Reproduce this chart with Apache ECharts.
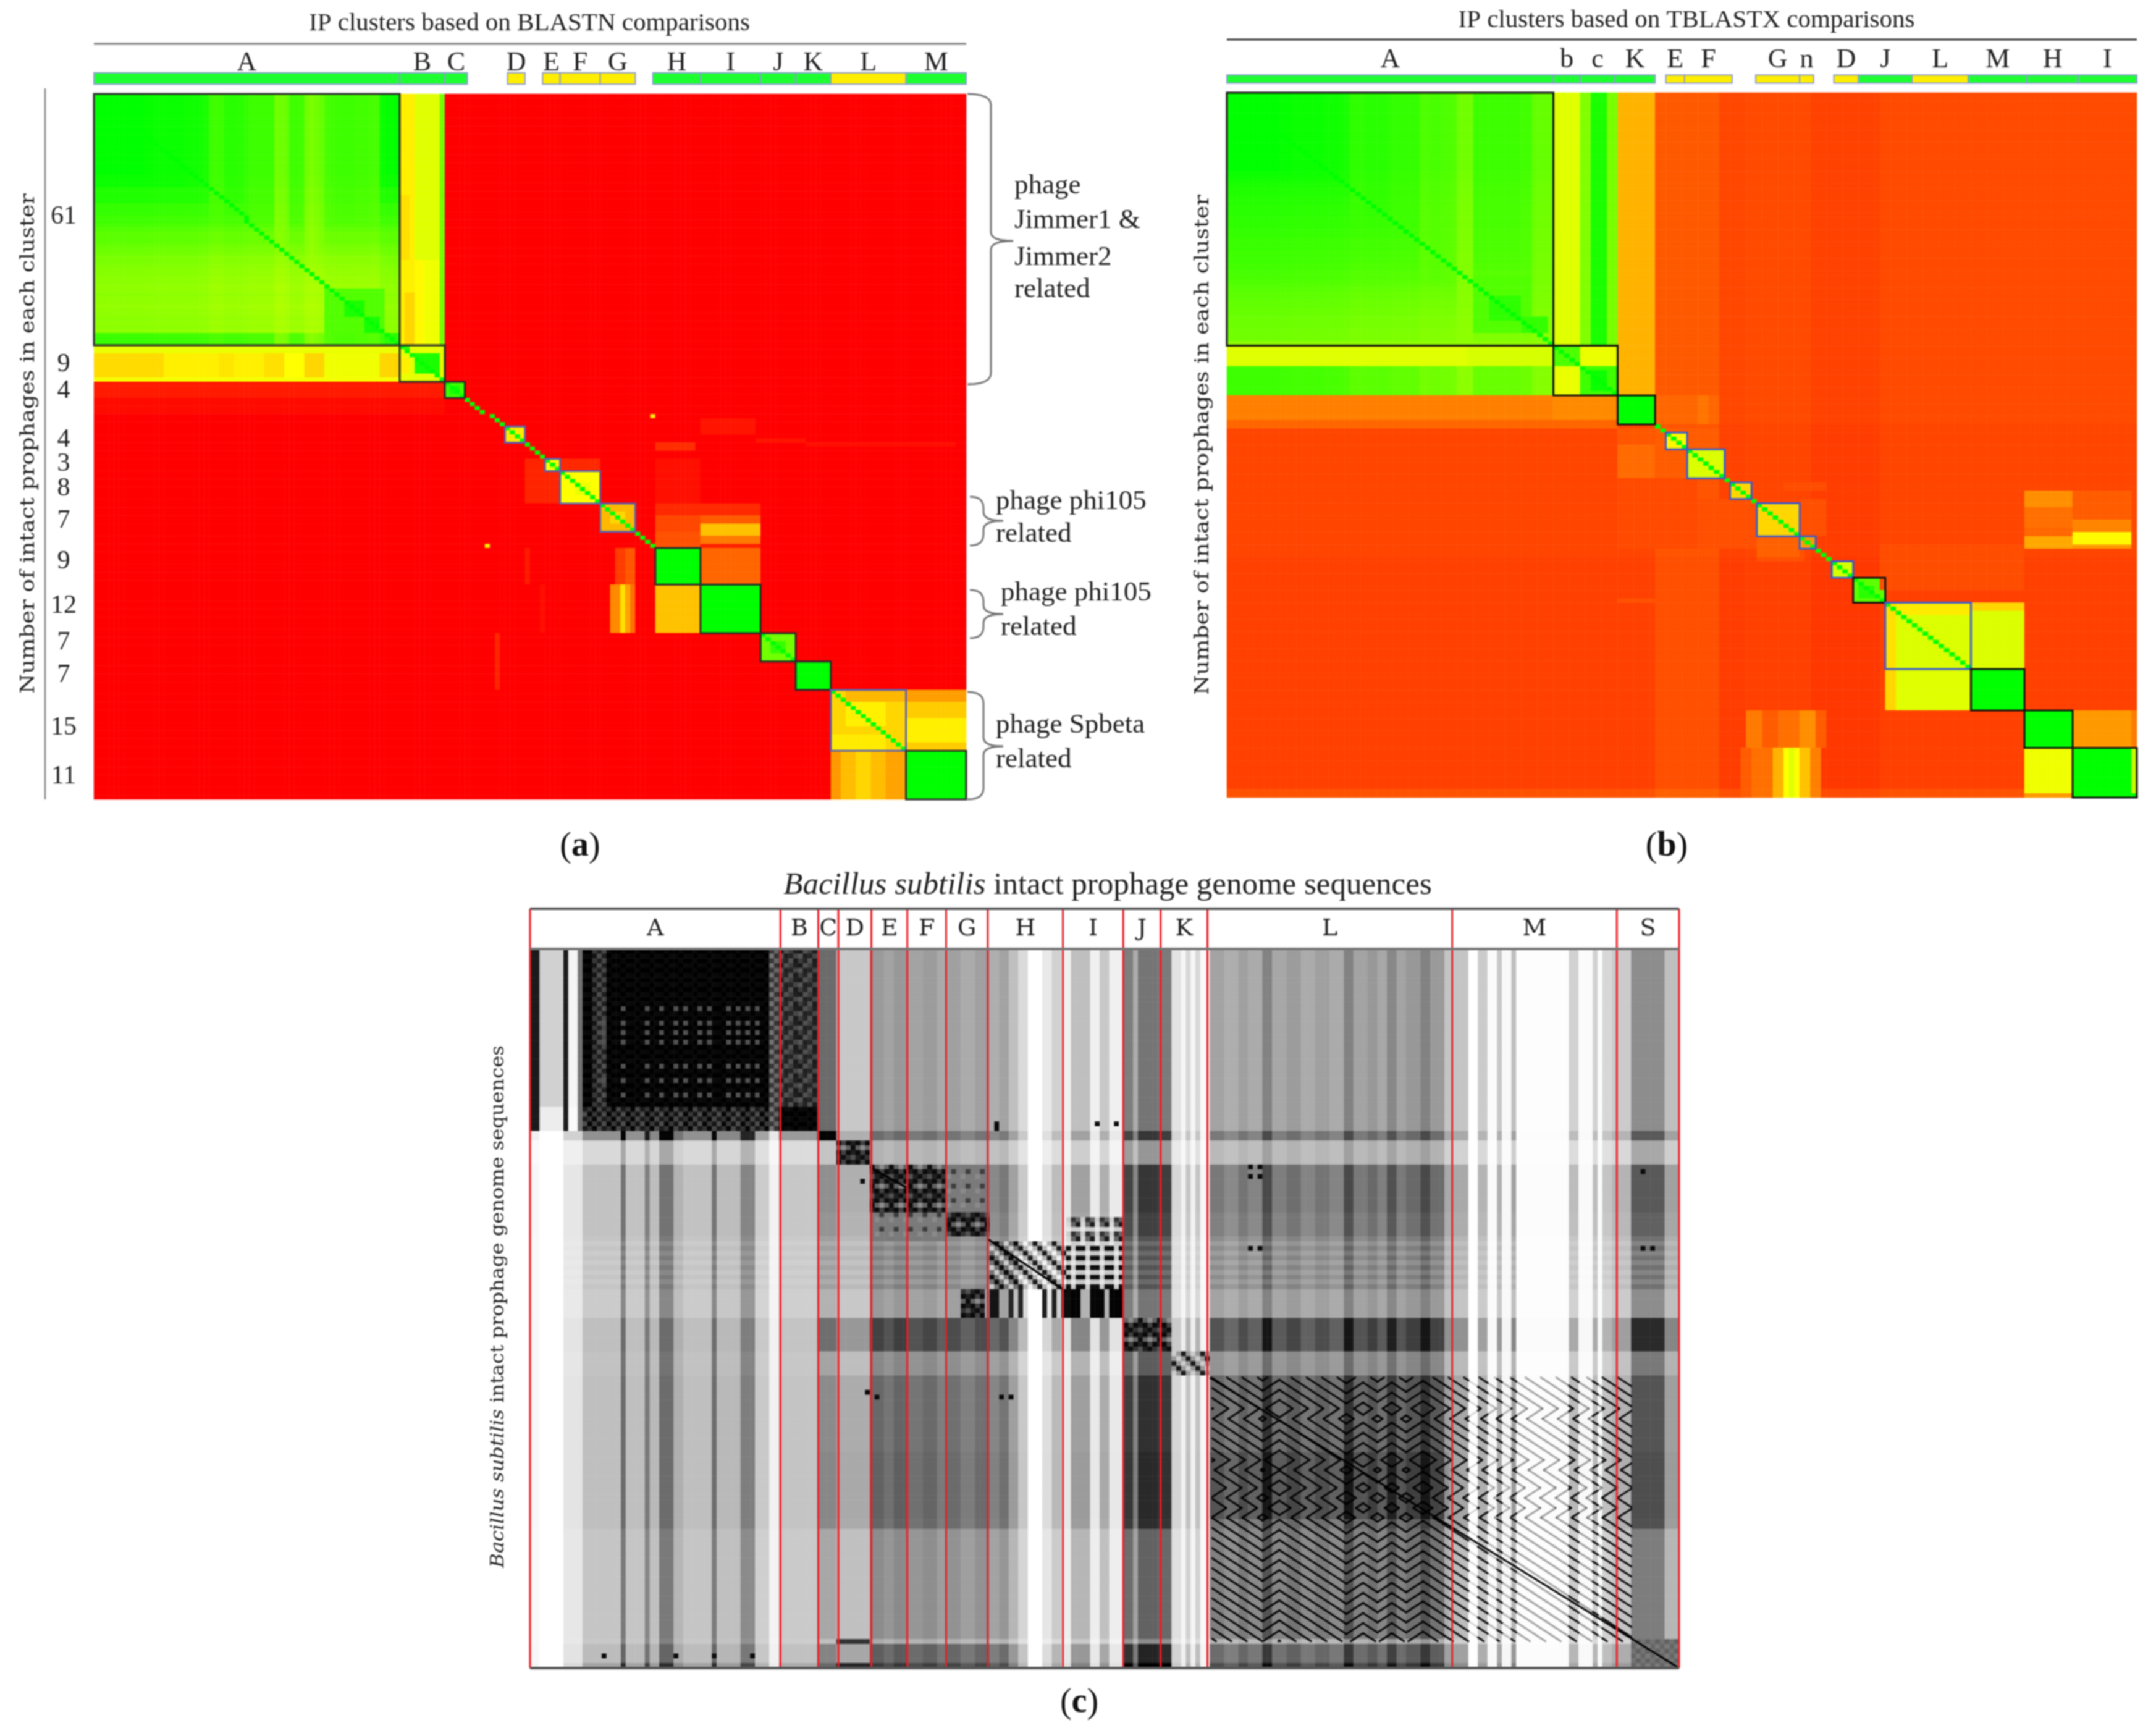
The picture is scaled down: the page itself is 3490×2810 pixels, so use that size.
<!DOCTYPE html>
<html><head><meta charset="utf-8">
<style>html,body{margin:0;padding:0;background:#fff}#c{width:3490px;height:2810px;filter:blur(0.9px)}</style>
<script src="https://cdn.jsdelivr.net/npm/echarts@6/dist/echarts.min.js"></script>
</head><body><div id="c"></div>
<script>
const aSize = 174;
const aClusterNames = ['A','B','C','D','E','F','G','H','I','J','K','L','M'];
const aClusterSpans = [[0,61],[61,70],[70,74.5],[82.5,86],[89.5,93],[93,101],[101,108],[111.5,121],[121,133],[133,140],[140,147],[147,162],[162,174]];
const aRowCounts = ['61','9','4','4','3','8','7','9','12','7','7','15','11'];
const aCountRows = [30,66.5,73,85,91,97,105,115,126,135,143,156,168];
const aBarTone = [0,0,0,1,1,1,1,0,0,0,0,1,0];
const aBlocks = [[0,61,0],[61,70,0],[70,74,0],[82,86,1],[90,93,1],[93,101,1],[101,108,1],[112,121,0],[121,133,0],[133,140,0],[140,147,0],[147,162,1],[162,174,0]];
const aColDrop = [0,0,0,0,0,0,0,0,0,0,1,1,2,2,2,2,2,2,3,3,3,4,5,12,12,12,8,8,8,8,10,12,12,12,12,12,22,22,20,12,12,13,22,24,22,20,14,13,12,12,12,12,13,13,13,14,14,2,1,1,0];
const aRowDrop = [0,0,0,0,0,0,0,0,0,0,0,0,0,0,0,0,0,0,0,0,2,2,2,6,6,6,6,10,10,10,12,14,16,18,18,18,20,21,22,24,24,25,26,26,27,27,28,28,27,28,28,29,28,28,27,28,27,28,12,11,11];
const aPatches = [
 [47,58,46,58,84],[50,54,50,54,95],[54,58,54,57,96],[58,61,58,61,92],
 [0,61,61,64,47],[0,40,64,69,56],[40,61,64,66,49],[40,61,66,69,53],[0,61,69,70,78],[25,40,61,63,44],[48,61,62,64,42],
 [61,63,0,61,54],[63,69,0,14,43],[63,69,14,25,47],[63,69,25,28,45],[63,69,28,34,47],[63,69,34,38,44],[63,69,38,42,50],[63,69,42,46,42],[63,69,46,57,53],[63,69,57,61,42],[69,70,0,61,52],
 [61,70,61,70,55],[63,68,64,69,95],[61,70,61,63,54],[64,68,61,63,47],[61,62,61,63,92],
 [70,74,0,70,5],[74,78,0,70,2],
 [70,74,70,74,88],[71,73,71,73,96],
 [82,86,82,86,46],[90,93,90,93,52],[93,101,93,101,50],[101,108,101,108,36],
 [103,106,103,106,42],[96,99,96,99,54],
 [90,101,86,90,7],[90,93,93,101,8],[93,101,90,93,7],[86,88,112,120,9],[90,101,112,121,3],
 [101,104,112,121,8],[104,108,112,121,14],[101,104,121,133,8],[104,106,121,133,18],[106,109,121,133,38],[109,111,121,133,24],[108,112,112,121,16],[111,112,121,133,6],
 [112,121,104,106,12],[112,121,106,108,17],[112,121,121,133,20],[112,121,86,87,5],
 [121,133,103,105,27],[121,133,105,106,44],[121,133,106,107,32],[121,133,107,108,22],[121,133,112,121,38],[121,133,89,90,3],
 [121,133,132,133,60],
 [112,121,112,121,100],[121,133,121,133,100],
 [133,140,133,140,78],[135,138,135,138,90],[140,147,140,147,100],
 [147,162,147,162,42],[150,156,150,158,47],[147,150,150,162,36],[158,162,147,158,46],
 [147,150,162,174,31],[150,154,162,174,40],[154,160,162,174,47],[160,162,162,174,40],
 [162,174,147,149,30],[162,174,149,152,37],[162,174,152,155,42],[162,174,155,158,37],[162,174,158,162,32],
 [162,174,162,174,100],
 [133,147,80,81,7],[80,84,121,132,4],[85,86,132,142,4],[86,87,142,172,3]
];
const aSpecks = [[111,78,46],[79,111,46]];

/* ---------- panel (b) TBLASTX ---------- */
const bSize = 170;
const bClusterNames = ['A','b','c','K','E','F','G','n','D','J','L','M','H','I'];
const bBarSpans = [[0,61],[61,66],[66,72.5],[72.5,80],[82,85.5],[85.5,94.4],[98.8,107],[107,109.6],[113.4,118],[118,128],[128,138.5],[138.5,149.5],[149.5,159],[159,170]];
const bBarTone = [0,0,0,0,1,1,1,1,1,0,1,0,0,0];
const bBlocks = [[0,61,0],[61,73,0],[73,80,0],[82,86,1],[86,93,1],[94,98,1],[99,107,1],[107,110,1],[113,117,1],[117,123,0],[123,139,1],[139,149,0],[149,158,0],[158,170,0]];
const bColDrop = [0,0,0,0,0,0,0,0,0,0,1,1,2,2,2,2,2,2,3,3,3,4,5,9,9,9,8,8,8,8,9,10,10,10,10,10,15,15,14,14,15,15,16,22,22,22,12,12,12,12,12,12,12,12,12,13,13,19,20,20,20];
const bRowDrop = [0,0,0,0,0,0,0,0,0,0,0,0,0,0,0,0,0,0,0,2,3,4,5,6,6,7,7,8,8,8,9,9,9,10,10,11,11,11,12,12,12,13,13,14,14,15,16,17,18,18,19,19,20,20,21,21,21,22,22,22,22];
const bRowFill = [[0,80,14.5],[80,112,13.5],[112,170,12.5],[168,170,16]];
const bColTint = [[80,92,3],[109,122,-1.5],[92,97,-0.5]];
const bPatches = [
 [0,61,61,66,56],[0,61,66,68,75],[0,61,68,71,95],[0,61,71,73,76],[0,80,73,80,35],[60,61,0,61,72],
 [61,66,0,61,56],[61,66,45,61,58],[61,66,61,66,85],[61,66,66,73,54],
 [66,73,61,66,54],[66,73,66,73,88],[67,72,68,71,98],
 [73,79,0,61,25],[73,79,61,73,27],[79,81,0,73,20],[73,80,73,80,100],[73,80,80,92,20],[73,80,88,90,23],
 [81,93,73,80,17],[85,93,73,80,21],[81,93,80,92,18],
 [93,110,73,88,14.5],[88,93,88,92,16],
 [82,86,82,86,48],[86,93,86,93,57],[94,98,94,98,42],[99,107,99,107,42],[107,110,107,110,30],
 [98,110,88,99,15.5],[98,107,107,112,15.5],[110,113,99,108,16],[107,112,99,107,19],[94,96,104,112,15],
 [113,117,113,117,58],[117,123,117,123,82],[119,122,118,121,92],
 [123,139,123,139,57],[123,126,123,139,46],[123,139,123,125,44],
 [123,139,139,149,57],[123,125,139,149,42],[139,149,123,139,56],[139,149,123,125,42],[139,149,139,149,100],
 [109,120,122,149,15],[122,123,73,80,16],
 [149,158,97,100,24],[149,158,100,103,18],[149,158,103,107,22],[149,158,107,110,28],[149,158,110,112,18],
 [158,170,96,98,18],[158,170,98,102,22],[158,170,102,104,35],[158,170,104,105,50],[158,170,105,106,56],[158,170,106,107,50],[158,170,107,109,38],[158,170,109,111,25],
 [149,158,149,158,100],[158,170,158,170,100],[149,158,158,170,30],[149,158,169,170,24],[158,169,149,158,53],[169,170,149,158,30],[158,170,169,170,60],
 [96,100,149,158,28],[100,105,149,158,22],[105,107,149,158,20],[107,110,149,158,33],[96,103,158,169,18],[103,106,158,169,26],[106,109,158,169,49],[109,110,158,169,30],[95,110,169,170,14]
];

/* ---------- panel (c) dot-plot darkness 0 white .. 100 black ---------- */
const cCols = 240, cRows = 150;
const cClusterNames = ['A','B','C','D','E','F','G','H','I','J','K','L','M','S'];
const cClusterEdges = [0,52.3,60.2,64.4,71.3,78.8,86.9,95.6,111.3,123.9,131.7,141.5,192.6,227,240];
const cColumnRuns = [[0,3],[2,0],[7,10],[11,24],[19,55],[20,24],[24,50],[25,26],[27,55],[30,30],[32,24],[38,55],[39,26],[44,48],[47,20],[50,5],[52,22],[60,42],[64,30],[71,55],[74,50],[76,56],[79,50],[82,54],[85,47],[87,52],[90,46],[93,52],[96,44],[98,50],[100,35],[102,20],[104,0],[107,12],[109,25],[111,8],[113,35],[117,8],[119,30],[121,8],[124,70],[126,45],[127,75],[131,72],[134,15],[136,5],[137,22],[138,5],[139,22],[140,3],[142,50],[145,44],[148,52],[150,46],[153,68],[155,48],[158,54],[161,46],[164,52],[167,46],[170,68],[172,50],[175,56],[177,48],[179,65],[181,50],[183,56],[186,68],[188,55],[191,32],[196,0],[198,28],[200,2],[202,30],[203,3],[205,35],[206,1],[217,25],[219,2],[222,25],[223,2],[224,22],[226,28],[230,62],[237,35]];
const cRowBands = [[0,38,1,.72],[38,40,1.8,1.05],[40,45,.62,.55],[45,55,1,1.05],[55,60,1,1],[60,61,.95,.9],[61,62,.85,.78],[62,63,.95,.9],[63,64,.85,.78],[64,65,.95,.9],[65,66,.85,.78],[66,67,.95,.9],[67,68,.85,.78],[68,69,.95,.9],[69,70,.85,.78],[70,71,.95,.9],[71,77,.85,.72],[77,84,1.05,1.35],[84,89,1,.85],[89,105,1.05,1.08],[105,119,1.05,1.12],[119,121,1.05,1.1],[121,144,.95,.82],[144,145,.9,.6],[145,149,1.1,1.15],[149,150,1.5,1.4]];
/* extra darkening of the L block only: rowStart,rowEnd,colStart,colEnd,gain */
const cBlockGains = [[89,105,142,192,1.1],[105,119,142,192,1.2],[121,144,142,192,1.22]];
const cTiles = {
 black:[[100,97,100],[97,100,96]],
 mesh85:[[92,78,88,72],[76,92,70,88]],
 mesh70:[[85,55,78,60],[60,82,55,80]],
 mesh88:[[98,78,92,70],[80,98,72,90]],
 meshB:[[90,68,76,88],[66,88,86,72],[76,86,68,90]],
 dense:[[96,74,96,88],[62,45,62,95],[96,74,96,88],[88,95,80,68]],
 grain:[[52,52,52],[52,76,52],[46,52,52]],
 diagA:[[95,55,20,55],[55,95,55,20],[20,55,95,55],[55,20,55,95]],
 diagB:[[90,30,5,30],[30,90,30,5],[5,30,90,30],[30,5,30,90]],
 dash:[[95,95,20],[22,22,10]],
 dots:[[90,15,60],[20,10,20],[60,20,80]],
 kblock:[[90,40,20,40],[40,90,40,20],[20,40,90,40],[40,20,40,90]],
 sBox:[[55,62],[60,52]]
};
const cPatches = [
 [0,38,0,2,90],[0,33,2,7,18],[33,38,2,7,7],[0,38,7,8,90],[0,33,8,10,4],[33,38,8,10,2],[0,38,10,11,55],
 [0,38,11,52,'black'],[0,33,13,16,'mesh85'],[0,38,50,52,'mesh70'],[33,38,11,50,'mesh88'],
 [0,33,52,60,'meshB'],[33,38,52,60,'black'],[0,38,60,64,58],[38,40,60,64,99],
 [40,45,64,71,'dense'],[45,55,71,87,'dense'],[55,60,87,96,'dense'],[45,55,87,96,'grain'],[55,61,71,87,'grain'],
 [62,71,112,124,'dash'],[56,62,112,124,'dots'],[71,77,113,115,99],[71,77,115,117,30],[71,77,117,120,98],[71,77,120,121,30],[71,77,121,124,99],
 [61,71,96,102,'diagA'],[61,71,102,112,'diagB'],
 [71,77,96,98,92],[71,77,100,101,85],[71,77,102,103,85],[71,77,107,108,88],[71,77,109,110,88],[71,77,111,113,95],[71,77,90,95,'dense'],
 [77,84,124,134,'dense'],[84,89,134,142,'kblock'],
 [144,150,230,240,'sBox'],[144,145,64,71,80],[149,150,64,71,85]
];
const cDotRows = [12,15,17,19,24,27,30];
const cDotCols = [15,19,24,27,30,32,35,37,41,43,45,47];
const cBlackDots = [[45,150],[45,152],[47,150],[47,152],[62,150],[62,152],[48,69],[52,78],[52,86],[62,232],[62,234],[46,232],[92,70],[93,72],[93,98],[93,100],[36,97],[37,97],[36,118],[36,122],[147,15],[147,30],[147,38],[147,46]];
/* chevron geometry read from the L/M blocks: column turning points and row turning points */
const cZigKnots = [142.5,153,156.5,170.5,174,177,180,183,186.5,192.5,230];
const cZigDirs = [1,-1,1,-1,1,-1,1,-1,1,1];
const cRowFolds = [89.4,95.9,98,106.6,108.7,112.4,114.5,116.6,118.6,144.4];
const cRowFoldDirs = [1,-1,1,-1,1,-1,1,-1,1];
const cZigOffsets = [-41.9,-39.8,-37.7,-35.6,-33.5,-31.4,-29.3,-27.2,-25.1,-23,-20.9,-18.8,-16.7,-14.6,-12.5,-10.4,-8.3,-6.2,-4.1,-2,0.1,2.2,4.3,6.4,8.5,10.6,12.7,14.8,16.9,19,21.1,23.2,25.3,27.4,29.5,31.6,33.7,35.8,37.9];
const cZigInk = [[142,.92],[191,.9],[196,.15],[198,.9],[200,.25],[202,.9],[203,.25],[205,.85],[206,.35],[217,.9],[219,.35],[222,.9],[223,.35],[224,.9]];
const cLongDiagonals = [[71,45.5,79,50],[95.6,60.5,112,71.5],[142,89.4,240,150]];

/* ---------- layout ---------- */
const gridA = {left:152,top:152,width:1412,height:1142};
const gridB = {left:1986,top:150,width:1473,height:1141};
const gridC = {left:858,top:1536,width:1860,height:1164};
const GREEN='#1eff32', YELLOW='#ffee00', BAR_EDGE='#8c9ad6';
const SERIF='"Liberation Serif",serif', WIDE='"DejaVu Serif",serif';

function blank(rows,cols,v){return Array.from({length:rows},()=>new Array(cols).fill(v));}
function paint(m,patches,tiles){
  for(const [r0,r1,c0,c1,v] of patches){
    for(let r=r0;r<r1&&r<m.length;r++)for(let c=c0;c<c1&&c<m[0].length;c++){
      if(typeof v==='string'){const t=tiles[v];m[r][c]=t[r%t.length][c%t[0].length];}else m[r][c]=v;
    }
  }
}
function flat(m){const out=[];m.forEach((row,r)=>row.forEach((v,c)=>out.push([c,r,Math.round(v*10)/10])));return out;}
function idx(n){return Array.from({length:n},(_,i)=>String(i));}
function mix(cd,rd){return 100-Math.max(cd,rd)-0.25*Math.min(cd,rd);}
/* panel a: block A reads one row taller than it is wide, taken out of the gap under C */
function aRowAt(r){return r+(r>=30&&r<=78?1:0);}

function buildA(){
  const m=blank(aSize,aSize,0);
  for(let r=0;r<61;r++)for(let c=0;c<61;c++)m[r][c]=mix(aColDrop[c],aRowDrop[r]);
  paint(m,aPatches);
  for(const [r,c,v] of aSpecks)m[r][c]=v;
  for(let i=0;i<aSize;i++)m[i][i]=100;
  m.splice(78,1);m.splice(30,0,m[30].slice());
  return flat(m);
}
function buildB(){
  const m=blank(bSize,bSize,13);
  for(const [r0,r1,v] of bRowFill)for(let r=r0;r<r1;r++)m[r].fill(v);
  for(const [c0,c1,d] of bColTint)for(let r=0;r<bSize;r++)for(let c=c0;c<c1;c++)m[r][c]+=d;
  for(let r=0;r<61;r++)for(let c=0;c<61;c++)m[r][c]=mix(bColDrop[c],bRowDrop[r]);
  paint(m,[[44,58,46,57,84],[49,55,49,55,91],[54,58,55,60,90]]);
  for(let r=66;r<73;r++)for(let c=0;c<61;c++)m[r][c]=Math.max(68,88-bColDrop[c]*0.7);
  paint(m,bPatches);
  for(let i=0;i<bSize;i++)m[i][i]=100;
  return flat(m);
}
function buildC(){
  const base=new Array(cCols).fill(0);
  cColumnRuns.forEach(([s,v],i)=>{const e=i+1<cColumnRuns.length?cColumnRuns[i+1][0]:cCols;for(let c=s;c<e;c++)base[c]=v;});
  const m=blank(cRows,cCols,0);
  for(const [r0,r1,gl,gr] of cRowBands)for(let r=r0;r<r1;r++)for(let c=0;c<cCols;c++)m[r][c]=Math.min(100,base[c]*(c<60?gl:gr));
  for(const [r0,r1,c0,c1,g] of cBlockGains)for(let r=r0;r<r1;r++)for(let c=c0;c<c1;c++)m[r][c]=Math.min(100,m[r][c]*g);
  paint(m,cPatches,cTiles);
  for(const r of cDotRows)for(const c of cDotCols)m[r][c]=68;
  for(const [r,c] of cBlackDots)m[r][c]=96;
  return flat(m);
}
function inkAt(c){let k=cZigInk[0][1];for(const [s,v] of cZigInk)if(c>=s)k=v;return k;}
function chevronSegments(){
  const out=[],cuts=cZigInk.map(d=>d[0]),SL=0.653;
  const colPieces=[];let v=0;
  cZigDirs.forEach((d,i)=>{const a=cZigKnots[i],b=cZigKnots[i+1];
    const stops=[a,...cuts.filter(x=>x>a&&x<b),b];
    for(let k=0;k<stops.length-1;k++){const va=v+d*SL*(stops[k]-a);colPieces.push([stops[k],stops[k+1],va,d]);}
    v+=d*SL*(b-a);});
  const rowPieces=[];let u=0;
  cRowFoldDirs.forEach((d,i)=>{const p=cRowFolds[i],q=cRowFolds[i+1];rowPieces.push([p,q,u,d]);u+=d*(q-p);});
  for(const off of cZigOffsets)for(const [ca,cb,va,dc] of colPieces)for(const [p,q,up,dr] of rowPieces){
    const rowAt=c=>p+dr*(va+dc*SL*(c-ca)+off-up);
    let c0=ca,c1=cb,y0=rowAt(c0),y1=rowAt(c1);
    const lo=p,hi=q,s=(y1-y0)/(c1-c0);
    if(Math.max(y0,y1)<=lo||Math.min(y0,y1)>=hi)continue;
    const clipC=y=>c0+(y-y0)/s;
    let a=[c0,y0],b=[c1,y1];
    if(a[1]<lo)a=[clipC(lo),lo];if(a[1]>hi)a=[clipC(hi),hi];
    if(b[1]<lo)b=[clipC(lo),lo];if(b[1]>hi)b=[clipC(hi),hi];
    out.push([a[0],a[1],b[0],b[1],inkAt(ca+0.01)]);
  }
  return out;
}

/* ---------- custom series helpers ---------- */
function frameSeries(ax,blocks,palette,lw,rowAt){
  return {type:'custom',xAxisIndex:ax,yAxisIndex:ax,silent:true,z:5,data:blocks.map(b=>[b[0],b[1],b[2]]),
    renderItem:(p,api)=>{const a=api.coord([api.value(0),rowAt(api.value(0))]),b=api.coord([api.value(1),rowAt(api.value(1))]);
      return {type:'rect',shape:{x:a[0],y:a[1],width:b[0]-a[0],height:b[1]-a[1]},style:{fill:'none',stroke:palette[api.value(2)],lineWidth:lw}};}};
}
function barSeries(ax,spans,tones,rowTop,rowBottom){
  return {type:'custom',xAxisIndex:ax,yAxisIndex:ax,silent:true,z:5,data:spans.map((s,i)=>[s[0],s[1],tones[i]]),
    renderItem:(p,api)=>{const a=api.coord([api.value(0),rowTop]),b=api.coord([api.value(1),rowBottom]);
      return {type:'rect',shape:{x:a[0],y:a[1],width:b[0]-a[0],height:b[1]-a[1]},style:{fill:api.value(2)?YELLOW:GREEN,stroke:BAR_EDGE,lineWidth:2}};}};
}
function letterSeries(ax,names,centers,row,font){
  return {type:'custom',xAxisIndex:ax,yAxisIndex:ax,silent:true,z:6,data:centers.map(c=>[c]),
    renderItem:(p,api)=>{const a=api.coord([api.value(0),row]);
      return {type:'text',x:a[0],y:a[1],style:{text:names[p.dataIndex],font,fill:'#222',align:'center',verticalAlign:'middle'}};}};
}
function heat(ax,data){
  return {type:'heatmap',xAxisIndex:ax,yAxisIndex:ax,data,silent:true,progressive:0,animation:false,emphasis:{disabled:true},itemStyle:{borderWidth:0},z:2};
}
const grids=[gridA,gridB,gridC,gridA,gridB,gridC];
const sizes=[[aSize,aSize],[bSize,bSize],[cCols,cRows]];
const xAxes=[],yAxes=[];
sizes.forEach((s,i)=>{xAxes.push({type:'category',gridIndex:i,data:idx(s[0]),show:false});yAxes.push({type:'category',gridIndex:i,data:idx(s[1]),inverse:true,show:false});});
sizes.forEach((s,i)=>{xAxes.push({type:'value',gridIndex:i+3,min:0,max:s[0],show:false});yAxes.push({type:'value',gridIndex:i+3,min:0,max:s[1],inverse:true,show:false});});

const INK=['#2a2a2a','#5b5fb0'], INKB=['#111111','#3a5ad0'];
const aCenters=aClusterSpans.map(s=>(s[0]+s[1])/2);
const cCenters=cClusterNames.map((_,i)=>(cClusterEdges[i]+cClusterEdges[i+1])/2);
const redRowTop=(1471-gridC.top)/(gridC.height/cRows);
const zig=chevronSegments();

const series=[
 heat(0,buildA()),heat(1,buildB()),heat(2,buildC()),
 frameSeries(3,aBlocks,INK,3,aRowAt),frameSeries(4,bBlocks,INKB,3,r=>r),
 barSeries(3,aClusterSpans,aBarTone,-5.2,-2.4),barSeries(4,bBarSpans,bBarTone,-4.3,-2.3),
 letterSeries(3,aClusterNames,aCenters,-7.6,'44px '+SERIF),
 letterSeries(4,bClusterNames,bBarSpans.map(s=>(s[0]+s[1])/2),-7.8,'44px '+SERIF),
 letterSeries(5,cClusterNames,cCenters,-4.1,'38px '+WIDE),
 {type:'custom',xAxisIndex:3,yAxisIndex:3,silent:true,z:6,data:aCountRows.map(r=>[r]),
  renderItem:(p,api)=>{const a=api.coord([0,api.value(0)]);
   return {type:'text',x:a[0]-49,y:a[1]+2,style:{text:aRowCounts[p.dataIndex],font:'42px '+SERIF,fill:'#222',align:'center',verticalAlign:'middle'}};}},
 {type:'custom',xAxisIndex:5,yAxisIndex:5,silent:true,z:4,data:zig,
  renderItem:(p,api)=>{const a=api.coord([api.value(0),api.value(1)]),b=api.coord([api.value(2),api.value(3)]);
   return {type:'line',shape:{x1:a[0],y1:a[1],x2:b[0],y2:b[1]},style:{stroke:'rgba(0,0,0,'+api.value(4)+')',lineWidth:3.2,lineCap:'round'}};}},
 {type:'custom',xAxisIndex:5,yAxisIndex:5,silent:true,z:4,data:cLongDiagonals,
  renderItem:(p,api)=>{const a=api.coord([api.value(0),api.value(1)]),b=api.coord([api.value(2),api.value(3)]);
   return {type:'line',shape:{x1:a[0],y1:a[1],x2:b[0],y2:b[1]},style:{stroke:'#000',lineWidth:3.2}};}},
 {type:'custom',xAxisIndex:5,yAxisIndex:5,silent:true,z:7,data:cClusterEdges.map(e=>[e]),
  renderItem:(p,api)=>{const a=api.coord([api.value(0),redRowTop]),b=api.coord([api.value(0),cRows]);
   return {type:'line',shape:{x1:a[0],y1:a[1],x2:b[0],y2:b[1]},style:{stroke:'#ee1c25',lineWidth:3}};}}
];

/* ---------- decoration ---------- */
function txt(x,y,text,font,opt){return Object.assign({type:'text',x,y,silent:true,z:20,style:Object.assign({text,font,fill:'#222',align:'center',verticalAlign:'middle'},opt&&opt.style||{})},opt&&opt.el||{});}
function leftTxt(x,y,t){return txt(x,y,t,'45px '+SERIF,{style:{align:'left'}});}
function rule(x1,y1,x2,y2,color,w){return {type:'line',silent:true,z:20,shape:{x1,y1,x2,y2},style:{stroke:color,lineWidth:w}};}
function quad(pts,p0,c,p1){for(let i=1;i<=6;i++){const t=i/6,u=1-t;pts.push([u*u*p0[0]+2*u*t*c[0]+t*t*p1[0],u*u*p0[1]+2*u*t*c[1]+t*t*p1[1]]);}}
function bracket(xL,xM,xT,yT,yB,yM){
  const pts=[[xL,yT]];
  quad(pts,[xL,yT],[xM,yT],[xM,yT+18]);pts.push([xM,yM-14]);
  quad(pts,[xM,yM-14],[xM,yM],[xT,yM]);quad(pts,[xT,yM],[xM,yM],[xM,yM+14]);
  pts.push([xM,yB-18]);quad(pts,[xM,yB-18],[xM,yB],[xL,yB]);
  return {type:'polyline',silent:true,z:20,shape:{points:pts},style:{fill:'none',stroke:'#777',lineWidth:3}};
}
function caption(x,y,l){return txt(x,y,'{p|(}{b|'+l+'}{p|)}','56px '+SERIF,{style:{rich:{p:{font:'56px '+SERIF,fill:'#111'},b:{font:'bold 56px '+SERIF,fill:'#111'}}}});}
const graphic=[
 txt(857,38,'IP clusters based on BLASTN comparisons','41px '+SERIF),
 txt(2730,33,'IP clusters based on TBLASTX comparisons','41px '+SERIF),
 txt(1793,1434,'{i|Bacillus subtilis}{n| intact prophage genome sequences}','51px '+SERIF,{style:{rich:{i:{font:'italic 51px '+SERIF,fill:'#222'},n:{font:'51px '+SERIF,fill:'#222'}}}}),
 rule(152,71,1564,71,'#777',3),rule(1986,64,3459,64,'#333',3),rule(858,1471,2718,1471,'#555',4),
 rule(73,143,73,1294,'#888',2.5),rule(858,1536,2718,1536,'#777',4),rule(858,2700,2718,2700,'#555',4),
 txt(47,718,'Number of intact prophages in each cluster','32px '+WIDE,{el:{rotation:Math.PI/2,scaleX:1.14}}),
 txt(1948,720,'Number of intact prophages in each cluster','32px '+WIDE,{el:{rotation:Math.PI/2,scaleX:1.14}}),
 txt(807,2115,'{i|Bacillus subtilis}{n| intact prophage genome sequences}','30px '+WIDE,{el:{rotation:Math.PI/2,scaleX:1.07},style:{rich:{i:{font:'italic 30px '+WIDE,fill:'#222'},n:{font:'30px '+WIDE,fill:'#222'}}}}),
 bracket(1566,1604,1640,152,622,390),bracket(1570,1592,1624,804,883,843),bracket(1570,1592,1624,955,1033,994),bracket(1566,1592,1624,1120,1294,1208),
 leftTxt(1642,301,'phage'),leftTxt(1642,357,'Jimmer1 &'),leftTxt(1642,417,'Jimmer2'),leftTxt(1642,469,'related'),
 leftTxt(1612,812,'phage phi105'),leftTxt(1612,865,'related'),
 leftTxt(1620,960,'phage phi105'),leftTxt(1620,1016,'related'),
 leftTxt(1612,1174,'phage Spbeta'),leftTxt(1612,1230,'related'),
 caption(939,1371,'a'),caption(2698,1371,'b'),caption(1747,2757,'c')
];

const chart=echarts.init(document.getElementById('c'),null,{renderer:'canvas',width:3490,height:2810});
chart.setOption({
 animation:false,backgroundColor:'#fff',
 grid:grids.map(g=>Object.assign({},g,{containLabel:false})),
 xAxis:xAxes,yAxis:yAxes,
 visualMap:[
  {type:'continuous',show:false,seriesIndex:[0,1],dimension:2,min:0,max:100,inRange:{color:['#ff0000','#ffff00','#00ff00']}},
  {type:'continuous',show:false,seriesIndex:[2],dimension:2,min:0,max:100,inRange:{color:['#ffffff','#000000']}}
 ],
 series,graphic
});
</script></body></html>
